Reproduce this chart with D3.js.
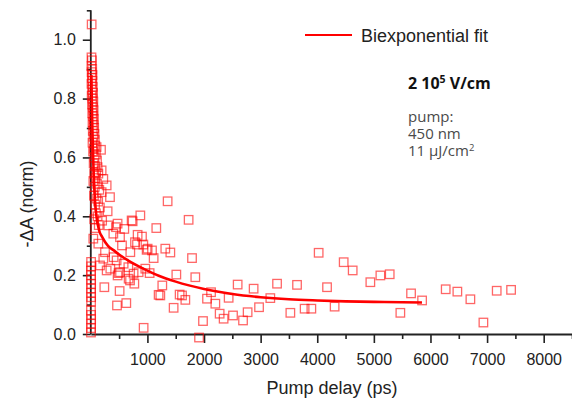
<!DOCTYPE html>
<html>
<head>
<meta charset="utf-8">
<script src="https://cdn.jsdelivr.net/npm/d3@7"></script>
<style>
  html, body { margin: 0; padding: 0; background: #fff; }
  svg { display: block; }
</style>
</head>
<body>
<svg id="chart" width="572" height="406"></svg>
<script>
// ---------- data ----------
// Pump delay (ps) of each measured point
const delays = [
  // pre time-zero column
  3, 5, 4, 6, 5, 3, 5, 6, 4, 5, 6, 4, 5, 3, 6, 5,
  // early decay column
  15, 12, 20, 10, 25, 15, 30, 18, 28, 12, 35, 22, 40, 15, 30, 45, 20, 38, 50, 25,
  42, 55, 30, 48, 60, 35, 65, 45, 70, 30, 80, 55, 102, 180, 40, 90, 65, 110, 50, 120,
  75, 191, 95, 60, 133, 85, 221, 45, 110, 280, 70, 150, 191, 55, 339, 100, 130, 75, 160, 297,
  90, 120, 60, 200, 140, 309, 80, 398, 44, 133, 251,
  // mid range
  445, 592, 739, 875, 1357, 1728, 1157, 904, 816, 1004, 1081, 1316, 1405, 1110, 1788, 551,
  698, 580, 963, 1039, 845, 756, 668, 769, 491, 1511, 1846, 1263, 1198, 1228, 1569, 1611,
  1670, 509, 239, 627, 463, 1463, 933, 1982, 1912, 2053, 2124, 2200, 2276, 2346, 2435, 2512,
  2594, 2689, 2770, 2876, 2972, 721, 473, 516, 827, 928, 986, 781, 221, 456, 663, 163,
  280, 516, 693, 473, 403, 345,
  // long delays
  3171, 3290, 3525, 3643, 3777, 3896, 4025, 4173, 4307, 4467, 4626, 4938, 5115, 5280, 5468,
  5657, 5852, 6269, 6475, 6705, 6935, 7170, 7424
];
// -ΔA (normalised) of each measured point
const signal = [
  0.005, 0.020, 0.035, 0.050, 0.065, 0.080, 0.110, 0.125, 0.140, 0.155, 0.170, 0.185, 0.200, 0.215, 0.230, 0.245,
  1.052, 0.940, 0.930, 0.910, 0.900, 0.890, 0.880, 0.870, 0.860, 0.850, 0.840, 0.830, 0.820, 0.810, 0.800, 0.790, 0.780, 0.770, 0.760, 0.750,
  0.740, 0.730, 0.720, 0.710, 0.700, 0.690, 0.680, 0.670, 0.660, 0.650, 0.640, 0.630, 0.635, 0.626, 0.620, 0.610, 0.600, 0.590, 0.580, 0.567,
  0.570, 0.556, 0.550, 0.545, 0.545, 0.530, 0.527, 0.520, 0.510, 0.505, 0.500, 0.490, 0.482, 0.470, 0.465, 0.460, 0.450, 0.440, 0.430, 0.417,
  0.410, 0.400, 0.390, 0.385, 0.370, 0.369, 0.360, 0.341, 0.324, 0.307, 0.278,
  0.363, 0.357, 0.383, 0.403, 0.451, 0.388, 0.360, 0.331, 0.304, 0.290, 0.284, 0.290, 0.277, 0.258, 0.258, 0.301,
  0.278, 0.239, 0.222, 0.207, 0.210, 0.205, 0.188, 0.171, 0.207, 0.202, 0.193, 0.165, 0.133, 0.131, 0.134, 0.131,
  0.116, 0.146, 0.159, 0.105, 0.097, 0.089, 0.021, 0.044, -0.012, 0.120, 0.142, 0.103, 0.069, 0.052, 0.123, 0.063,
  0.168, 0.046, 0.074, 0.154, 0.091, 0.386, 0.375, 0.329, 0.337, 0.304, 0.286, 0.312, 0.256, 0.250, 0.227, 0.233,
  0.216, 0.210, 0.182, 0.199, 0.261, 0.222,
  0.122, 0.171, 0.072, 0.167, 0.086, 0.086, 0.276, 0.159, 0.093, 0.244, 0.216, 0.176, 0.199, 0.203, 0.072,
  0.138, 0.114, 0.152, 0.144, 0.118, 0.039, 0.147, 0.150
];
// Biexponential fit curve
const fitDelays = [10, 25, 50, 75, 100, 150, 200, 300, 400, 500, 700, 900, 1200, 1500, 2000, 2500, 3000, 3500, 4000, 4500, 5000, 5500, 5850];
const fitValues = [0.88, 0.72, 0.55, 0.45, 0.40, 0.35, 0.33, 0.30, 0.285, 0.27, 0.245, 0.225, 0.198, 0.178, 0.153, 0.136, 0.125, 0.118, 0.114, 0.111, 0.109, 0.108, 0.107];

const xTicks = [1000, 2000, 3000, 4000, 5000, 6000, 7000, 8000];
const xMinorTicks = [500, 1500, 2500, 3500, 4500, 5500, 6500, 7500, 8500];
const yTicks = [0, 0.2, 0.4, 0.6, 0.8, 1.0];
const yMinorTicks = [0.1, 0.3, 0.5, 0.7, 0.9, 1.1];

const legendLabel = "Biexponential fit";
const xTitle = "Pump delay (ps)";
const yTitle = "-ΔA (norm)";

// ---------- drawing ----------
const svg = d3.select("#chart");
const ink = "#222";
const red = "#ff0000";

const x = d3.scaleLinear().domain([0, 8500]).range([90.8, 572]);
const y = d3.scaleLinear().domain([0, 1.1]).range([334, 10.3]);

const axisFont = "Liberation Sans, Arial, sans-serif";

// X axis
const gx = svg.append("g").attr("transform", `translate(0,${y(0)})`);
gx.call(d3.axisBottom(x).tickValues(xMinorTicks).tickSize(5).tickSizeOuter(0).tickFormat(""));
gx.call(g => g.select(".domain").remove());
const gx2 = svg.append("g").attr("transform", `translate(0,${y(0)})`);
gx2.call(d3.axisBottom(x).tickValues(xTicks).tickSize(9).tickSizeOuter(0).tickPadding(11).tickFormat(d3.format("d")));
[gx, gx2].forEach(g => {
  g.selectAll("line").attr("stroke", ink).attr("stroke-width", 1.6);
  g.selectAll("text").attr("fill", ink).style("font-family", axisFont).style("font-size", "16px");
});
gx2.select(".domain").attr("stroke", ink).attr("stroke-width", 1.8);

// Y axis
const gy = svg.append("g").attr("transform", `translate(${x(0)},0)`);
gy.call(d3.axisLeft(y).tickValues(yMinorTicks).tickSize(4).tickSizeOuter(0).tickFormat(""));
gy.call(g => g.select(".domain").remove());
const gy2 = svg.append("g").attr("transform", `translate(${x(0)},0)`);
gy2.call(d3.axisLeft(y).tickValues(yTicks).tickSize(8).tickSizeOuter(0).tickPadding(7).tickFormat(d3.format(".1f")));
[gy, gy2].forEach(g => {
  g.selectAll("line").attr("stroke", ink).attr("stroke-width", 1.6);
  g.selectAll("text").attr("fill", ink).style("font-family", axisFont).style("font-size", "16px");
});
gy2.select(".domain").attr("d", `M0,${y(0)}V${y(1.1)}`).attr("stroke", ink).attr("stroke-width", 1.8);

// Axis titles
svg.append("text")
  .attr("x", 332).attr("y", 394)
  .attr("text-anchor", "middle")
  .attr("fill", ink)
  .style("font-family", axisFont).style("font-size", "18px")
  .text(xTitle);
svg.append("text")
  .attr("transform", "translate(33,204) rotate(-90)")
  .attr("text-anchor", "middle")
  .attr("fill", ink)
  .style("font-family", axisFont).style("font-size", "18px")
  .text(yTitle);

// Data points (open squares)
const s = 8.5;
svg.append("g")
  .selectAll("rect")
  .data(delays.map((d, i) => [d, signal[i]]))
  .join("rect")
  .attr("x", d => x(d[0]) - s / 2)
  .attr("y", d => y(d[1]) - s / 2)
  .attr("width", s).attr("height", s)
  .attr("fill", "none")
  .attr("stroke", red)
  .attr("stroke-opacity", 0.6)
  .attr("stroke-width", 1.3);

// Fit curve
const line = d3.line().x(d => x(d[0])).y(d => y(d[1])).curve(d3.curveMonotoneX);
svg.append("path")
  .datum(fitDelays.map((d, i) => [d, fitValues[i]]))
  .attr("d", line)
  .attr("fill", "none")
  .attr("stroke", red)
  .attr("stroke-width", 2.6);

// Legend
svg.append("line")
  .attr("x1", 305).attr("x2", 352).attr("y1", 35).attr("y2", 35)
  .attr("stroke", red).attr("stroke-width", 2);
svg.append("text")
  .attr("x", 361).attr("y", 41.5)
  .attr("fill", ink)
  .style("font-family", axisFont).style("font-size", "18px")
  .text(legendLabel);

// Annotation
const noteFont = "'Open Sans', sans-serif";
const t1 = svg.append("text")
  .attr("x", 408).attr("y", 89)
  .attr("fill", "#111")
  .style("font-family", noteFont).style("font-size", "16px").style("font-weight", "bold");
t1.append("tspan").text("2 10");
t1.append("tspan").attr("dy", -6).style("font-size", "10.5px").text("5");
t1.append("tspan").attr("dy", 6).text(" V/cm");

const note = svg.append("text")
  .attr("x", 408).attr("y", 122)
  .attr("fill", "#4a4a4a")
  .style("font-family", noteFont).style("font-size", "15px");
note.append("tspan").attr("x", 408).attr("dy", 0).text("pump:");
note.append("tspan").attr("x", 408).attr("dy", 17).text("450 nm");
note.append("tspan").attr("x", 408).attr("dy", 17).text("11 μJ/cm");
note.append("tspan").attr("dy", -5).style("font-size", "9.5px").text("2");
</script>
</body>
</html>
